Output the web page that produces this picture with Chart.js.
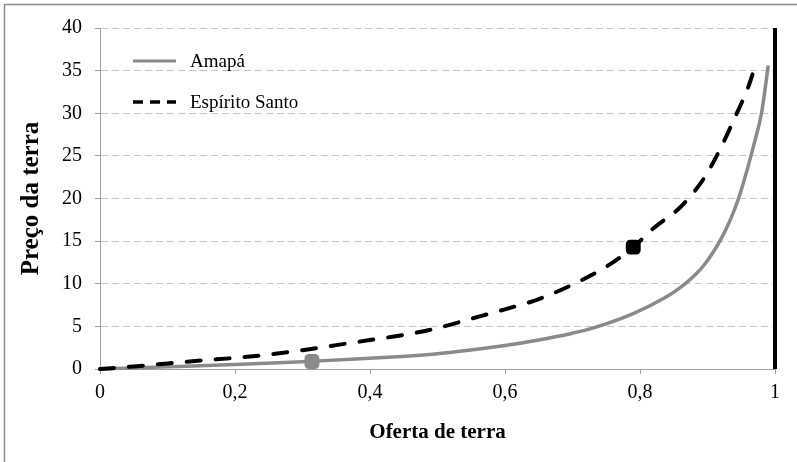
<!DOCTYPE html>
<html>
<head>
<meta charset="utf-8">
<script src="https://cdn.jsdelivr.net/npm/chart.js@4"></script>
<style>
html,body{margin:0;padding:0;background:#fff;}
#wrap{position:relative;width:797px;height:462px;overflow:hidden;}
canvas{display:block;}
</style>
</head>
<body>
<div id="wrap"><canvas id="c" width="797" height="462"></canvas></div>
<script>
// ---- data ----
const seriesNames = ['Amapá', 'Espírito Santo'];
const xTickValues = [0, 0.2, 0.4, 0.6, 0.8, 1];
const yTickValues = [0, 5, 10, 15, 20, 25, 30, 35, 40];

const amapaX = [0, 0.1, 0.2, 0.3, 0.4, 0.5, 0.6, 0.65, 0.7, 0.73, 0.79, 0.84, 0.86, 0.88, 0.895, 0.91, 0.925, 0.94, 0.95, 0.97, 0.98, 0.99];
const amapaY = [0, 0.25, 0.52, 0.85, 1.25, 1.8, 2.75, 3.4, 4.2, 4.8, 6.5, 8.5, 9.57, 10.9, 12.2, 13.9, 16.0, 18.7, 21.0, 26.7, 30.0, 35.6];

const esX = [0, 0.05, 0.1, 0.15, 0.2, 0.25, 0.3, 0.35, 0.4, 0.45, 0.5, 0.55, 0.6, 0.65, 0.7, 0.75, 0.79, 0.82, 0.86, 0.895, 0.92, 0.94, 0.96, 0.973];
const esY = [0, 0.3, 0.65, 1.0, 1.3, 1.7, 2.2, 2.8, 3.4, 4.0, 4.8, 5.9, 7.0, 8.2, 9.9, 12.0, 14.3, 16.5, 19.0, 22.4, 26.0, 29.4, 33.0, 36.1];

const markerAmapaX = [0.314];
const markerAmapaY = [0.88];
const markerEsX = [0.79];
const markerEsY = [14.3];

const limitX = [1, 1];
const limitY = [0, 40];

const xTitle = 'Oferta de terra';
const yTitle = 'Preço da terra';

// ---- build ----
const pts = (xs, ys) => xs.map((x, i) => ({x: x, y: ys[i]}));
const GRAY = '#8a8a8a';
const AXIS = '#a0a0a0';
const GRID = '#c8c8c8';
const FONT = '"Liberation Serif", "Times New Roman", serif';

const frame = {
  id: 'frame',
  beforeDraw(chart) {
    const ctx = chart.ctx;
    ctx.save();
    ctx.fillStyle = '#fff';
    ctx.fillRect(0, 0, chart.width, chart.height);
    ctx.strokeStyle = '#8c8c8c';
    ctx.lineWidth = 1.5;
    ctx.strokeRect(4.5, 4.5, chart.width + 20, chart.height + 20);
    ctx.restore();
  }
};

const innerLegend = {
  id: 'innerLegend',
  afterDatasetsDraw(chart) {
    const ctx = chart.ctx;
    const x0 = chart.chartArea.left + 33;
    const x1 = x0 + 43;
    const rows = [
      {y: chart.chartArea.top + 33, color: GRAY, dash: [], w: 3, text: seriesNames[0]},
      {y: chart.chartArea.top + 74, color: '#000', dash: [10, 7], w: 3.5, text: seriesNames[1]}
    ];
    ctx.save();
    rows.forEach(r => {
      ctx.beginPath();
      ctx.setLineDash(r.dash);
      ctx.lineWidth = r.w;
      ctx.strokeStyle = r.color;
      ctx.moveTo(x0, r.y);
      ctx.lineTo(x1, r.y);
      ctx.stroke();
      ctx.setLineDash([]);
      ctx.fillStyle = '#000';
      ctx.font = '19px ' + FONT;
      ctx.textBaseline = 'middle';
      ctx.textAlign = 'left';
      ctx.fillText(r.text, x1 + 14, r.y + 1);
    });
    ctx.restore();
  }
};

new Chart(document.getElementById('c'), {
  type: 'scatter',
  data: {
    datasets: [
      {
        label: 'limit',
        data: pts(limitX, limitY),
        showLine: true,
        borderColor: '#000',
        borderWidth: 4,
        pointRadius: 0,
        clip: false
      },
      {
        label: seriesNames[1] + ' ponto',
        data: pts(markerEsX, markerEsY),
        pointStyle: 'rectRounded',
        pointRadius: 8.7,
        backgroundColor: '#000',
        borderColor: '#000',
        borderWidth: 0,
        clip: false
      },
      {
        label: seriesNames[0] + ' ponto',
        data: pts(markerAmapaX, markerAmapaY),
        pointStyle: 'rectRounded',
        pointRadius: 8.7,
        backgroundColor: GRAY,
        borderColor: GRAY,
        borderWidth: 0,
        clip: false
      },
      {
        label: seriesNames[1],
        data: pts(esX, esY),
        showLine: true,
        borderColor: '#000',
        borderWidth: 4,
        borderDash: [14, 15],
        borderCapStyle: 'round',
        cubicInterpolationMode: 'monotone',
        pointRadius: 0,
        clip: false
      },
      {
        label: seriesNames[0],
        data: pts(amapaX, amapaY),
        showLine: true,
        borderColor: GRAY,
        borderWidth: 3.5,
        cubicInterpolationMode: 'monotone',
        pointRadius: 0,
        clip: false
      }
    ]
  },
  options: {
    responsive: false,
    animation: false,
    devicePixelRatio: 1,
    layout: {padding: {top: 28, right: 22, bottom: 0, left: 0}},
    plugins: {
      legend: {display: false},
      tooltip: {enabled: false}
    },
    scales: {
      x: {
        type: 'linear',
        min: 0, max: 1,
        afterFit(s) { s.height = 93; },
        afterBuildTicks(s) { s.ticks = xTickValues.map(v => ({value: v})); },
        ticks: {
          color: '#000',
          font: {family: FONT, size: 20},
          padding: 7,
          maxRotation: 0,
          callback: v => String(v).replace('.', ',')
        },
        grid: {
          drawOnChartArea: false,
          drawTicks: true,
          tickLength: 5,
          tickColor: AXIS,
          color: AXIS
        },
        border: {display: true, color: AXIS, width: 1},
        title: {
          display: true,
          text: xTitle,
          color: '#000',
          font: {family: FONT, size: 21, weight: 'bold'},
          padding: {top: 0, bottom: 17}
        }
      },
      y: {
        type: 'linear',
        min: 0, max: 40,
        afterFit(s) { s.width = 100; },
        afterBuildTicks(s) { s.ticks = yTickValues.map(v => ({value: v})); },
        ticks: {
          color: '#000',
          font: {family: FONT, size: 20},
          padding: 13
        },
        grid: {
          color: ctx => (ctx.tick && ctx.tick.value === 0) ? 'rgba(0,0,0,0)' : GRID,
          lineWidth: 1,
          drawTicks: true,
          tickLength: 5,
          tickColor: AXIS,
          tickBorderDash: []
        },
        border: {display: true, color: AXIS, width: 1, dash: [7, 4]},
        title: {
          display: true,
          text: yTitle,
          color: '#000',
          font: {family: FONT, size: 25, weight: 'bold'},
          padding: {top: 17, bottom: 0}
        }
      }
    }
  },
  plugins: [frame, innerLegend]
});
</script>
</body>
</html>
